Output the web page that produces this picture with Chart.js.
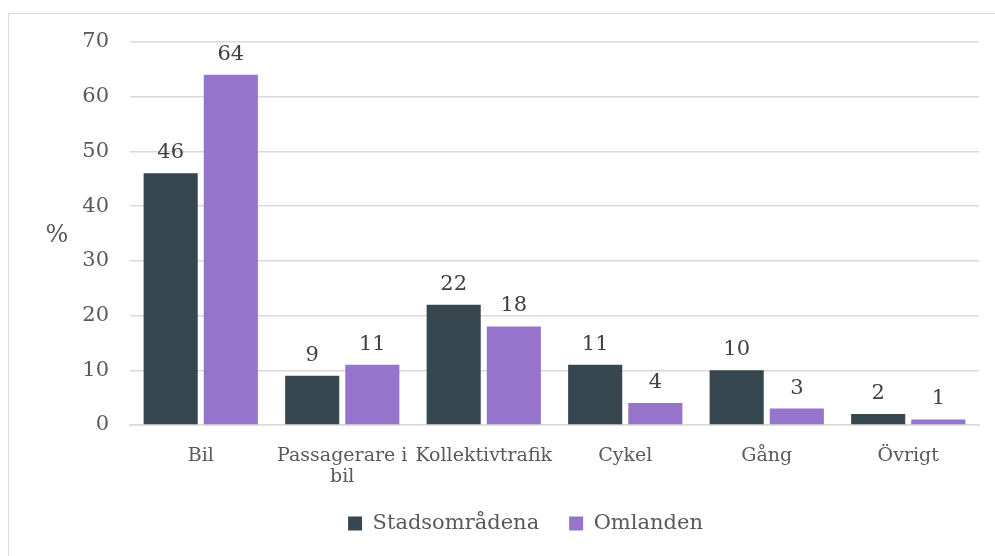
<!DOCTYPE html>
<html>
<head>
<meta charset="utf-8">
<script src="https://cdn.jsdelivr.net/npm/chart.js@4/dist/chart.umd.min.js"></script>
<style>
  html, body { margin: 0; padding: 0; background: #fff; }
  #wrap { position: relative; width: 995px; height: 556px; overflow: hidden; }
  #frame { position: absolute; left: 8px; top: 13px; width: 1000px; height: 600px; border: 1px solid #d9d9d9; border-width: 1.5px 0 0 1.5px; }
  canvas { position: absolute; left: 0; top: 0; }
</style>
</head>
<body>
<div id="wrap">
  <div id="frame"></div>
  <canvas id="chart" width="995" height="556"></canvas>
</div>
<script>
const categories = ['Bil', ['Passagerare i', 'bil'], 'Kollektivtrafik', 'Cykel', 'Gång', 'Övrigt'];
const stadsomradena = [46, 9, 22, 11, 10, 2];
const omlanden = [64, 11, 18, 4, 3, 1];
const yTicks = [0, 10, 20, 30, 40, 50, 60, 70];

const serif = "Georgia, 'DejaVu Serif', 'Liberation Serif', serif";

const valueLabels = {
    id: 'valueLabels',
    afterLayout(chart) {
        // legend sits a little right of centre in the original
        const lg = chart.legend;
        if (lg) { lg.left += 36; lg.right += 36; }
    },
    afterDatasetsDraw(chart) {
        const ctx = chart.ctx;
        ctx.save();
        ctx.font = '21px ' + serif;
        ctx.fillStyle = '#404040';
        ctx.textAlign = 'center';
        ctx.textBaseline = 'bottom';
        chart.data.datasets.forEach((ds, i) => {
            chart.getDatasetMeta(i).data.forEach((bar, j) => {
                ctx.fillText(String(ds.data[j]), bar.x, bar.y - 10);
            });
        });
        // y axis unit
        ctx.font = '24px ' + serif;
        ctx.fillStyle = '#595959';
        ctx.textBaseline = 'middle';
        ctx.fillText('%', 57, 236);
        ctx.restore();
    }
};

const ctx = document.getElementById('chart').getContext('2d');
new Chart(ctx, {
    type: 'bar',
    data: {
        labels: categories,
        datasets: [
            {
                label: 'Stadsområdena',
                data: stadsomradena,
                backgroundColor: '#37474F'
            },
            {
                label: 'Omlanden',
                data: omlanden,
                backgroundColor: '#9674CC'
            }
        ]
    },
    options: {
        responsive: false,
        animation: false,
        categoryPercentage: 0.85,
        barPercentage: 0.9,
        layout: { padding: { left: 0, right: 16, top: 42, bottom: 12 } },
        plugins: {
            legend: {
                position: 'bottom',
                labels: {
                    boxWidth: 14,
                    boxHeight: 14,
                    padding: 30,
                    color: '#595959',
                    font: { family: serif, size: 21 }
                }
            },
            tooltip: { enabled: false }
        },
        scales: {
            x: {
                grid: { display: false },
                border: { display: true, color: '#d9d9d9', width: 1.5 },
                ticks: {
                    color: '#595959',
                    padding: 13,
                    maxRotation: 0,
                    autoSkip: false,
                    font: { family: serif, size: 19, lineHeight: 1.1 }
                },
                afterFit(scale) { scale.height = 58; }
            },
            y: {
                min: 0,
                max: 70,
                afterBuildTicks(scale) { scale.ticks = yTicks.map(v => ({ value: v })); },
                grid: { color: '#d9d9d9', lineWidth: 1.5, drawTicks: false },
                border: { display: false },
                ticks: {
                    color: '#595959',
                    padding: 21,
                    font: { family: serif, size: 21 }
                },
                afterFit(scale) { scale.width = 130; }
            }
        }
    },
    plugins: [valueLabels]
});
</script>
</body>
</html>
